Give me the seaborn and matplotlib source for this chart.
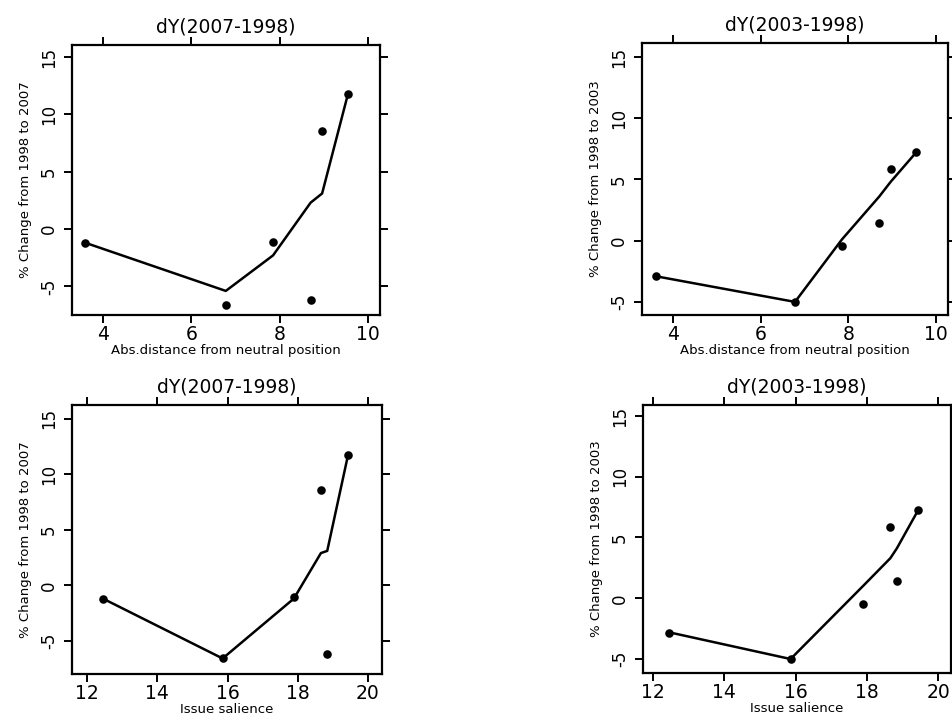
import matplotlib
matplotlib.use("Agg")
import matplotlib.pyplot as plt
import pandas as pd
import seaborn as sns

# Six issues (same issues in every panel)
distance = [3.60, 6.78, 7.85, 8.70, 8.96, 9.54]      # Abs. distance from neutral position
salience = [12.45, 15.86, 17.89, 18.84, 18.66, 19.43]  # Issue salience
dy_2007 = [-1.2, -6.6, -1.1, -6.2, 8.55, 11.75]       # % change 1998 -> 2007
dy_2003 = [-2.85, -5.0, -0.45, 1.45, 5.85, 7.25]      # % change 1998 -> 2003

# Smoothed (fitted) values drawn as lines, per issue
fit07_dist = [-1.2, -5.4, -2.3, 2.3, 3.1, 11.7]
fit03_dist = [-2.9, -5.0, 0.1, 3.6, 4.8, 7.2]
fit07_sal = [-1.2, -6.6, -1.2, 3.1, 2.9, 11.7]
fit03_sal = [-2.8, -5.0, 1.0, 4.1, 3.3, 7.2]

titles = ["dY(2007-1998)", "dY(2003-1998)"]
ylabels = ["% Change from 1998 to 2007", "% Change from 1998 to 2003"]
xlabels = ["Abs.distance from neutral position", "Issue salience"]
dist_ticks = [4, 6, 8, 10]
sal_ticks = [12, 14, 16, 18, 20]
y_ticks = [-5, 0, 5, 10, 15]

df = pd.DataFrame({
    "distance": distance, "salience": salience,
    "dy_2007": dy_2007, "dy_2003": dy_2003,
    "fit07_dist": fit07_dist, "fit03_dist": fit03_dist,
    "fit07_sal": fit07_sal, "fit03_sal": fit03_sal,
})

W, H = 952, 717
fig = plt.figure(figsize=(W / 100, H / 100), dpi=100)
fig.patch.set_facecolor("white")

def px_axes(x0, y0, x1, y1):
    return fig.add_axes([x0 / W, 1 - y1 / H, (x1 - x0) / W, (y1 - y0) / H])

panels = [
    # (box px, x col, y col, fit col, title idx, xlabel idx, xticks, xlim, ylim)
    ((72, 45, 380, 315), "distance", "dy_2007", "fit07_dist", 0, 0, dist_ticks, (3.30, 10.27), (-7.5, 16.05)),
    ((642, 43, 948, 315), "distance", "dy_2003", "fit03_dist", 1, 0, dist_ticks, (3.29, 10.27), (-6.07, 16.15)),
    ((72, 405, 382, 674), "salience", "dy_2007", "fit07_sal", 0, 1, sal_ticks, (11.57, 20.40), (-8.0, 16.25)),
    ((643, 405, 951, 673), "salience", "dy_2003", "fit03_sal", 1, 1, sal_ticks, (11.72, 20.36), (-6.15, 15.9)),
]

for box, xc, yc, fc, ti, xi, xt, xl, yl in panels:
    ax = px_axes(*box)
    sns.lineplot(data=df, x=xc, y=fc, ax=ax, color="black", linewidth=1.8,
                 sort=True, estimator=None)
    sns.scatterplot(data=df, x=xc, y=yc, ax=ax, color="black", s=38,
                    edgecolor="black", linewidth=0, zorder=3)
    ax.set_xlim(*xl)
    ax.set_ylim(*yl)
    ax.set_xticks(xt)
    ax.set_yticks(y_ticks)
    ax.set_xticklabels([str(v) for v in xt], fontsize=13.5)
    ax.set_yticklabels([str(v) for v in y_ticks], fontsize=12, rotation=90, va="center")
    ax.tick_params(axis="both", direction="out", length=6, width=1.4,
                   top=True, right=True, labeltop=False, labelright=False,
                   color="black")
    ax.tick_params(axis="x", pad=1.5)
    ax.tick_params(axis="y", pad=4)
    for s in ax.spines.values():
        s.set_linewidth(1.6)
        s.set_color("black")
    ax.set_title(titles[ti], fontsize=13.5, pad=9)
    ax.set_xlabel(xlabels[xi], fontsize=9.5, labelpad=0)
    ax.set_ylabel(ylabels[ti], fontsize=9.5, labelpad=6)
    ax.grid(False)
    ax.set_facecolor("white")

fig.savefig("out.png", dpi=100, facecolor="white")
